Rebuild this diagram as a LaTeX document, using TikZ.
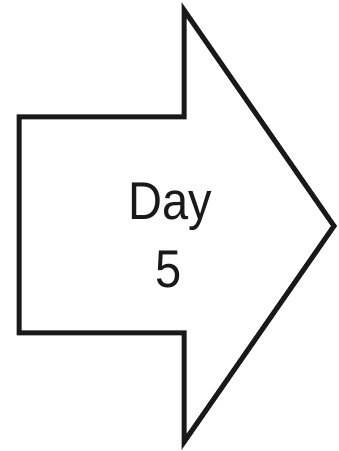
\documentclass[tikz,border=0pt]{standalone}
\usepackage{fontspec}
\setmainfont{Liberation Sans}
\begin{document}
\begin{tikzpicture}[x=1pt,y=1pt,
  arrowshape/.style={draw=black!90,line width=5pt,line join=miter,fill=white},
  label/.style={font=\fontsize{47}{56}\selectfont,inner sep=0pt,yscale=1.13,text=black!90}]
\useasboundingbox (0,0) rectangle (339,451);
\fill[white] (0,0) rectangle (339,451);
\draw[arrowshape] (19,334) -- (184,334) -- (184,441) -- (334,225) -- (184,9) -- (184,118) -- (19,118) -- cycle;
\node[label,anchor=base] (day) at (170,231) {Day};
\node[label,anchor=base] (five) at (169,163) {5};
\end{tikzpicture}
\end{document}
